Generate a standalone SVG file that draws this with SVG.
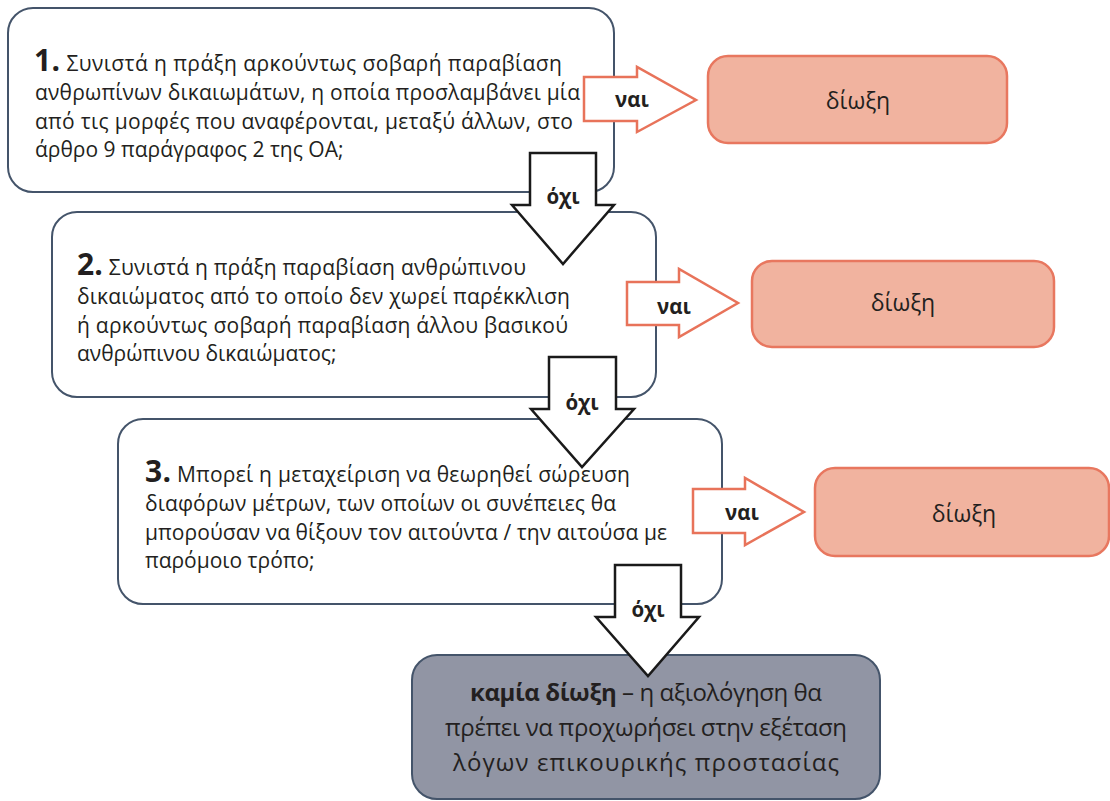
<svg xmlns="http://www.w3.org/2000/svg" width="1110" height="801" viewBox="0 0 1110 801">
<style>
.q{fill:#ffffff;stroke:#44546A;stroke-width:2}
.end{fill:#9195A4;stroke:#44546A;stroke-width:2}
.yes{fill:#F1B39F;stroke:#E8775F;stroke-width:2.5}
.ya{fill:#ffffff;stroke:#E8735A;stroke-width:2.5}
.na{fill:#ffffff;stroke:#1a1a1a;stroke-width:2.5}
text{font-family:"Open Sans","Noto Sans","DejaVu Sans",sans-serif;fill:#231f20}
.t{font-size:21px}
.num{font-size:30px;font-weight:bold}
.lbl{font-size:20.5px;font-weight:bold;text-anchor:middle}
.c{font-size:23px;text-anchor:middle}
.ec{font-size:24px;text-anchor:middle}
</style>
<rect width="1110" height="801" fill="#ffffff"/>
<g id="q1">
<rect class="q" x="8" y="8" width="606" height="184" rx="25"/>
<text class="t" x="34" y="71" textLength="528"><tspan class="num">1.</tspan> Συνιστά η πράξη αρκούντως σοβαρή παραβίαση</text>
<text class="t" x="35" y="100" textLength="545">ανθρωπίνων δικαιωμάτων, η οποία προσλαμβάνει μία</text>
<text class="t" x="35" y="128.5" textLength="538">από τις μορφές που αναφέρονται, μεταξύ άλλων, στο</text>
<text class="t" x="35" y="157">άρθρο 9 παράγραφος 2 της ΟΑ;</text>
</g>
<g id="q2">
<rect class="q" x="52" y="212" width="604" height="185" rx="25"/>
<text class="t" x="77" y="275" textLength="449"><tspan class="num">2.</tspan> Συνιστά η πράξη παραβίαση ανθρώπινου</text>
<text class="t" x="77" y="304" textLength="493">δικαιώματος από το οποίο δεν χωρεί παρέκκλιση</text>
<text class="t" x="77" y="332.5" textLength="491">ή αρκούντως σοβαρή παραβίαση άλλου βασικού</text>
<text class="t" x="77" y="361">ανθρώπινου δικαιώματος;</text>
</g>
<g id="q3">
<rect class="q" x="118" y="419" width="604" height="185" rx="25"/>
<text class="t" x="145" y="482" textLength="485"><tspan class="num">3.</tspan> Μπορεί η μεταχείριση να θεωρηθεί σώρευση</text>
<text class="t" x="145" y="511" textLength="471">διαφόρων μέτρων, των οποίων οι συνέπειες θα</text>
<text class="t" x="145" y="539.5" textLength="522">μπορούσαν να θίξουν τον αιτούντα / την αιτούσα με</text>
<text class="t" x="145" y="568">παρόμοιο τρόπο;</text>
</g>
<g id="p1">
<rect class="yes" x="708" y="56" width="299" height="87" rx="20"/>
<text class="c" x="858" y="109">δίωξη</text>
</g>
<g id="p2">
<rect class="yes" x="752" y="261" width="302" height="86" rx="20"/>
<text class="c" x="903" y="311">δίωξη</text>
</g>
<g id="p3">
<rect class="yes" x="815" y="468" width="294" height="88" rx="20"/>
<text class="c" x="964" y="522">δίωξη</text>
</g>
<g id="none">
<rect class="end" x="412" y="655" width="468" height="144" rx="25"/>
<text class="ec" x="646" y="701" textLength="352"><tspan font-weight="bold">καμία δίωξη</tspan> – η αξιολόγηση θα</text>
<text class="ec" x="646" y="736" textLength="402">πρέπει να προχωρήσει στην εξέταση</text>
<text class="ec" x="646" y="771" textLength="386">λόγων επικουρικής προστασίας</text>
</g>
<g id="connectors">
<polygon class="ya" points="584,77 637,77 637,67 696,100 637,132 637,121 584,121"/>
<text class="lbl" x="632" y="107">ναι</text>
<polygon class="ya" points="627,282 679,282 679,269 738,303 679,337 679,325 627,325"/>
<text class="lbl" x="674" y="314">ναι</text>
<polygon class="ya" points="693,489 745,489 745,478 804,512 745,545 745,533 693,533"/>
<text class="lbl" x="742" y="520">ναι</text>
<polygon class="na" points="530,153 596,153 596,205 614,205 563,264 512,205 530,205"/>
<text class="lbl" x="563" y="204">όχι</text>
<polygon class="na" points="549,357 616,357 616,409 634,409 582,467 531,409 549,409"/>
<text class="lbl" x="582" y="410">όχι</text>
<polygon class="na" points="615,565 681,565 681,617 699,617 648,676 596,617 615,617"/>
<text class="lbl" x="648" y="617">όχι</text>
</g>
</svg>
